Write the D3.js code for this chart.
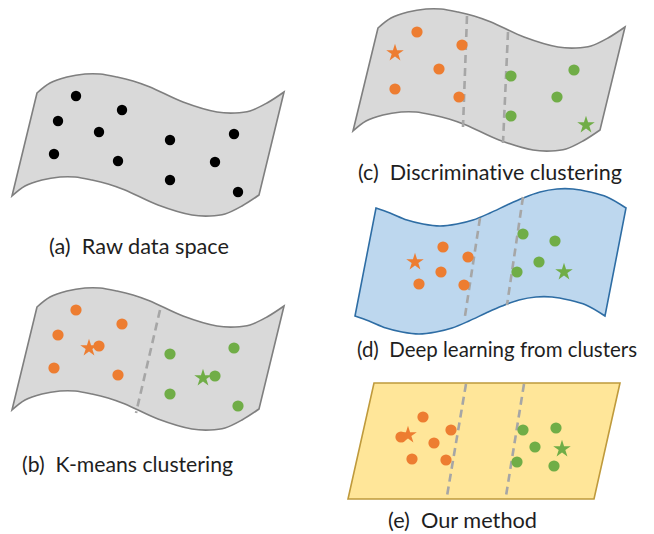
<!DOCTYPE html>
<html>
<head>
<meta charset="utf-8">
<script src="https://cdn.jsdelivr.net/npm/d3@7"></script>
<style>
  body { margin: 0; background: #fff; }
  svg { display: block; }
  text { font-family: Lato, "Open Sans", sans-serif; white-space: pre; fill: #1e1e1e;
         font-variant-ligatures: none; font-feature-settings: "liga" 0; }
</style>
</head>
<body>
<svg id="fig" width="654" height="534"></svg>
<script>
// ---- Sheet outlines (local units, origin = top-left corner of each sheet) ----
// Top edge of the wavy sheet; the bottom edge is the same curve shifted by waveDepth.
const waveTop = [[0,0],[13,-10],[30,-16],[48,-19],[63,-19],[80,-16],[96,-12],[113,-6],
                 [146,9],[180,19],[198,20],[213,18],[230,10],[247,-1]];
const waveDepth = [-25, 103];
// Top edge of the blue (learned) sheet
const flagTop = [[0,0],[14,5],[31,12],[47,16],[64,18],[81,16],[97,12],[114,5],[131,-3],
                 [147,-10],[164,-16],[181,-19],[197,-19],[214,-16],[231,-11],[250,0]];
const flagDepth = [-21, 108];
// Flat plane (our method)
const planeTop = [[0,0],[246,0]];
const planeDepth = [-26, 116];

// ---- Samples ----
// (a)/(b): raw samples, and their k-means assignment
const rawPoints = [[39,3],[85,17],[21,28],[62,39],[133,47],[197,41],[17,61],[81,68],[178,69],[133,87],[201,99]];
const kmeansLabel = ["A","A","A","A","B","B","A","A","B","B","B"];
const kmeansCentres = [[52,41,"A"],[166,71,"B"]];
const kmeansBoundary = [[[123,3],[99,106]]];

// (c): discriminative clustering
const discPoints = [[39,4],[84,17],[61,41],[17,61],[81,69],[133,48],[196,42],[179,69],[133,88]];
const discLabel = ["A","A","A","A","A","B","B","B","B"];
const discCentres = [[17,25,"A"],[208,97,"B"]];
const discBoundary = [[[89,-12],[85,99]],[[130,4],[125,115]]];

// (d): deep learning from clusters
const deepPoints = [[67,39],[92,49],[65,64],[43,76],[88,77],[147,26],[179,33],[163,54],[141,64]];
const deepLabel = ["A","A","A","A","A","B","B","B","B"];
const deepCentres = [[39,54,"A"],[188,64,"B"]];
const deepBoundary = [[[104,10],[89,108]],[[147,-11],[131,97]]];

// (e): our method
const oursPoints = [[49,34],[77,47],[60,60],[38,76],[72,77],[27,54],[149,47],[182,45],[161,64],[143,79],[180,83]];
const oursLabel = ["A","A","A","A","A","A","B","B","B","B","B"];
const oursCentres = [[34,52,"A"],[188,66,"B"]];
const oursBoundary = [[[92,1],[73,113]],[[150,1],[132,113]]];

const captions = ["(a)  Raw data space", "(b)  K-means clustering", "(c)  Discriminative clustering",
                  "(d)  Deep learning from clusters", "(e)  Our method"];

// ---- Styling ----
const clusterColor = { A: "#ED7D31", B: "#70AD47", none: "#000000" };
const sheetStyles = {
  grey:   { fill: "#D9D9D9", stroke: "#7F7F7F" },
  blue:   { fill: "#BDD7EE", stroke: "#2E6DA4" },
  yellow: { fill: "#FFE699", stroke: "#BF9A3C" }
};

const panels = [
  { origin: [37, 93],  top: waveTop,  depth: waveDepth,  curve: d3.curveCatmullRom, style: "grey",
    points: rawPoints, labels: null, centres: [], boundary: [],
    caption: captions[0], captionAt: [12, 161], captionWidth: 180 },
  { origin: [37, 307], top: waveTop,  depth: waveDepth,  curve: d3.curveCatmullRom, style: "grey",
    points: rawPoints, labels: kmeansLabel, centres: kmeansCentres, boundary: kmeansBoundary,
    caption: captions[1], captionAt: [-15, 165], captionWidth: 211 },
  { origin: [378, 28], top: waveTop,  depth: waveDepth,  curve: d3.curveCatmullRom, style: "grey",
    points: discPoints, labels: discLabel, centres: discCentres, boundary: discBoundary,
    caption: captions[2], captionAt: [-20, 152], captionWidth: 264 },
  { origin: [376, 208], top: flagTop, depth: flagDepth,  curve: d3.curveCatmullRom, style: "blue",
    points: deepPoints, labels: deepLabel, centres: deepCentres, boundary: deepBoundary,
    caption: captions[3], captionAt: [-19, 149], captionWidth: 280 },
  { origin: [374, 383], top: planeTop, depth: planeDepth, curve: d3.curveLinear, style: "yellow",
    points: oursPoints, labels: oursLabel, centres: oursCentres, boundary: oursBoundary,
    caption: captions[4], captionAt: [14, 145], captionWidth: 149 }
];

const svg = d3.select("#fig");
const starPath = d3.symbol().type(d3.symbolStar).size(95)();

panels.forEach(p => {
  const x = d3.scaleLinear().domain([0, 100]).range([p.origin[0], p.origin[0] + 100]);
  const y = d3.scaleLinear().domain([0, 100]).range([p.origin[1], p.origin[1] + 100]);
  const g = svg.append("g");

  // sheet outline: top edge, then the shifted copy walked backwards
  const edge = d3.line().x(d => x(d[0])).y(d => y(d[1])).curve(p.curve);
  const bottom = p.top.map(d => [d[0] + p.depth[0], d[1] + p.depth[1]]).reverse();
  const dPath = edge(p.top) + "L" + edge(bottom).slice(1) + "Z";
  const st = sheetStyles[p.style];
  g.append("path").attr("d", dPath)
    .attr("fill", st.fill).attr("stroke", st.stroke).attr("stroke-width", 1.6)
    .attr("stroke-linejoin", "miter");

  // cluster boundaries
  g.selectAll(".bd").data(p.boundary).join("line")
    .attr("x1", d => x(d[0][0])).attr("y1", d => y(d[0][1]))
    .attr("x2", d => x(d[1][0])).attr("y2", d => y(d[1][1]))
    .attr("stroke", "#A6A6A6").attr("stroke-width", 2.6).attr("stroke-dasharray", "8,5");

  // samples
  g.selectAll(".pt").data(p.points).join("circle")
    .attr("cx", d => x(d[0])).attr("cy", d => y(d[1]))
    .attr("r", p.labels ? 5.6 : 5.2)
    .attr("fill", (d, i) => clusterColor[p.labels ? p.labels[i] : "none"]);

  // cluster centres
  g.selectAll(".ct").data(p.centres).join("path")
    .attr("d", starPath)
    .attr("transform", d => `translate(${x(d[0])},${y(d[1])})`)
    .attr("fill", d => clusterColor[d[2]]);

  // caption
  g.append("text")
    .attr("x", x(p.captionAt[0])).attr("y", y(p.captionAt[1]))
    .attr("font-size", 21.4)
    .attr("textLength", p.captionWidth)
    .attr("lengthAdjust", "spacingAndGlyphs")
    .text(p.caption);
});
</script>
</body>
</html>
